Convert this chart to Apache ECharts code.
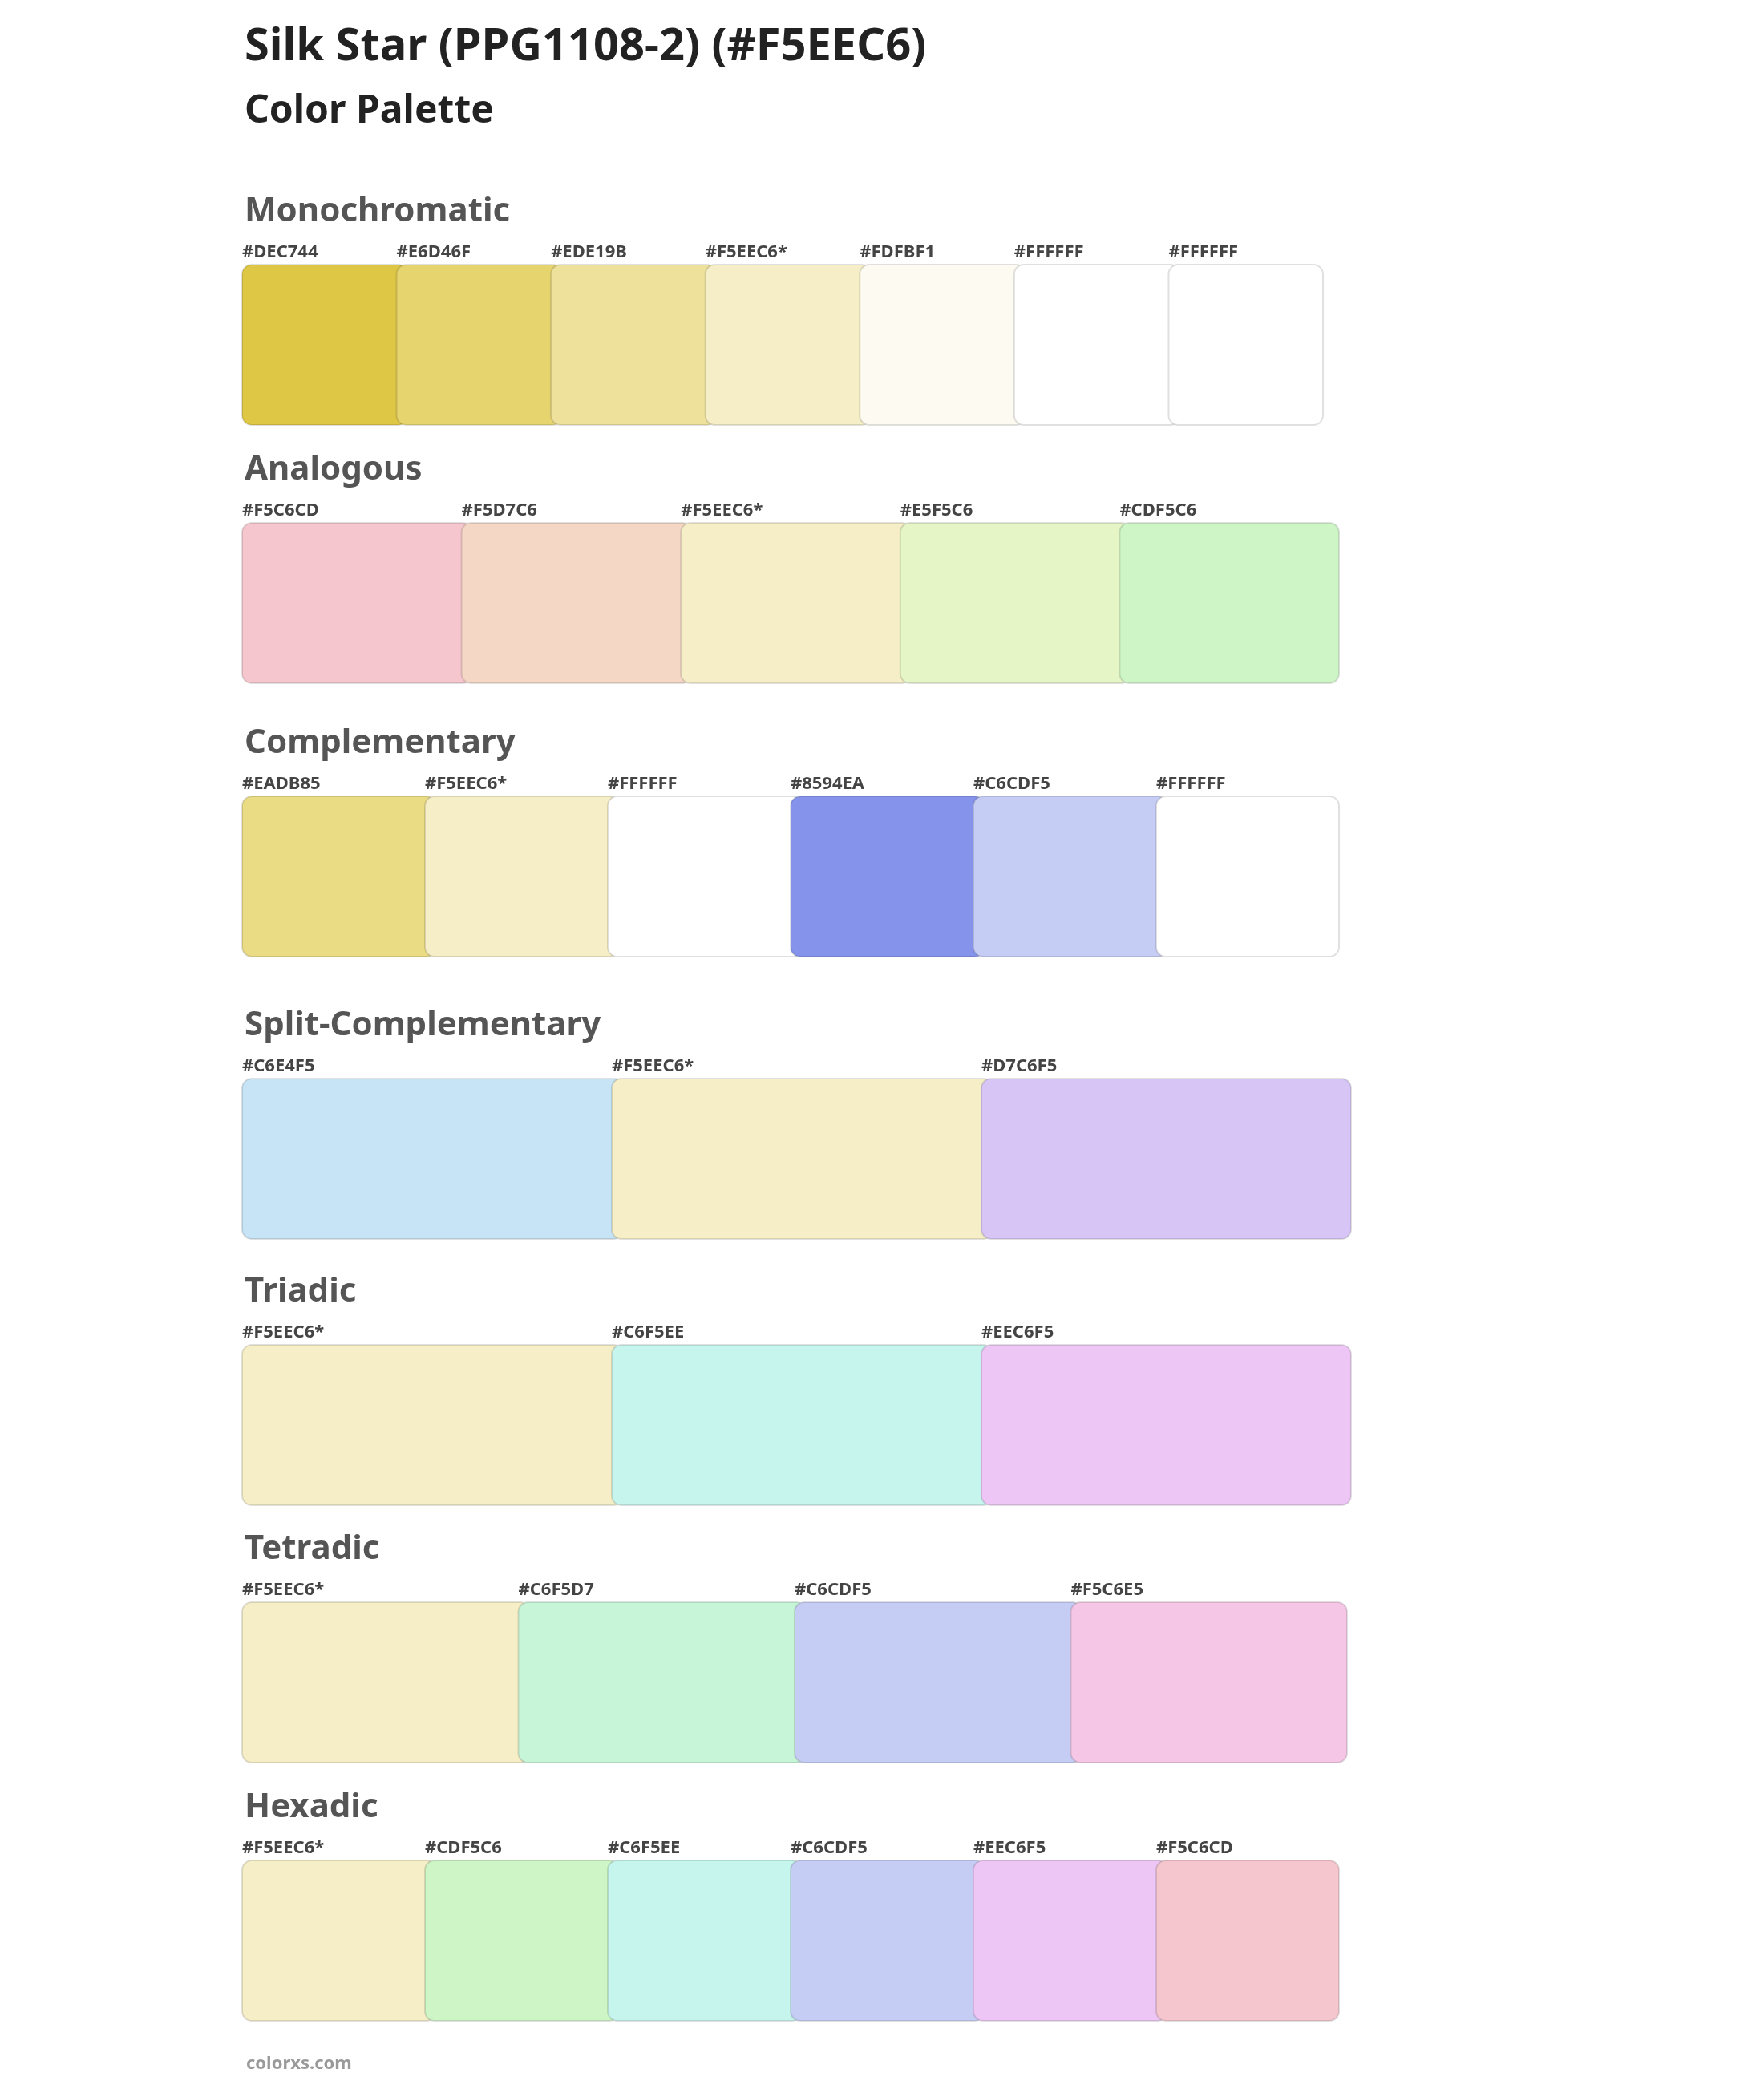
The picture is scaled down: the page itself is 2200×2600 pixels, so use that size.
<!DOCTYPE html>
<html lang="en">
<head>
<meta charset="UTF-8">
<title>Silk Star palette</title>
<script src="https://cdn.jsdelivr.net/npm/echarts@6/dist/echarts.min.js"></script>
<style>body{margin:0;background:#fff}</style>
</head>
<body>
<div id="chart" style="width:2200px;height:2600px;"></div>
<script>
var sectionNames = ['Monochromatic', 'Analogous', 'Complementary', 'Split-Complementary', 'Triadic', 'Tetradic', 'Hexadic'];
var mono = ['#DEC744', '#E6D46F', '#EDE19B', '#F5EEC6*', '#FDFBF1', '#FFFFFF', '#FFFFFF'];
var analogous = ['#F5C6CD', '#F5D7C6', '#F5EEC6*', '#E5F5C6', '#CDF5C6'];
var complementary = ['#EADB85', '#F5EEC6*', '#FFFFFF', '#8594EA', '#C6CDF5', '#FFFFFF'];
var split = ['#C6E4F5', '#F5EEC6*', '#D7C6F5'];
var triadic = ['#F5EEC6*', '#C6F5EE', '#EEC6F5'];
var tetradic = ['#F5EEC6*', '#C6F5D7', '#C6CDF5', '#F5C6E5'];
var hexadic = ['#F5EEC6*', '#CDF5C6', '#C6F5EE', '#C6CDF5', '#EEC6F5', '#F5C6CD'];
var palettes = [mono, analogous, complementary, split, triadic, tetradic, hexadic];

// layout (pixels)
var left = 302;
var swatchTops = [330, 652, 993, 1345, 1677, 1998, 2320];
var rights = [1650, 1670, 1670, 1685, 1685, 1680, 1670];
var swatchH = 200;

var myChart = echarts.init(document.getElementById('chart'));
var grids = [], xAxes = [], yAxes = [], series = [];
var titles = [
    {text: 'Silk Star (PPG1108-2) (#F5EEC6)', left: left - 2, top: 26,
     textStyle: {fontFamily: 'Noto Sans', fontWeight: 'bold', fontSize: 56, color: '#222'}},
    {text: 'Color Palette', left: left - 2, top: 110,
     textStyle: {fontFamily: 'Noto Sans', fontWeight: 'bold', fontSize: 48, color: '#222'}},
    {text: 'colorxs.com', left: left, top: 2558,
     textStyle: {fontFamily: 'Noto Sans', fontWeight: 'bold', fontSize: 22, color: '#999'}}
];

palettes.forEach(function (p, k) {
    titles.push({text: sectionNames[k], left: left - 2, top: swatchTops[k] - 92,
        textStyle: {fontFamily: 'Noto Sans', fontWeight: 'bold', fontSize: 42, color: '#555'}});
    grids.push({left: left, top: swatchTops[k], width: rights[k] - left, height: swatchH});
    xAxes.push({type: 'value', gridIndex: k, min: 0, max: p.length, show: false});
    yAxes.push({type: 'value', gridIndex: k, min: 0, max: 1, show: false});
    var n = p.length;
    series.push({
        type: 'custom', xAxisIndex: k, yAxisIndex: k,
        data: p.map(function (c, i) { return [i, c]; }),
        renderItem: function (params, api) {
            var i = api.value(0);
            var label = p[i];
            var col = label.replace('*', '');
            var a = api.coord([i, 1]);
            var b = api.coord([i + 1, 0]);
            var x2 = i === n - 1 ? b[0] : b[0] + 14;
            return {
                type: 'group',
                children: [{
                    type: 'rect',
                    shape: {x: a[0], y: a[1], width: x2 - a[0], height: b[1] - a[1], r: 12},
                    style: {fill: col, stroke: 'rgba(0,0,0,0.12)', lineWidth: 2}
                }, {
                    type: 'text',
                    style: {x: a[0], y: a[1] - 15, text: label, fill: '#444',
                        font: 'bold 22px "Noto Sans"', verticalAlign: 'middle'}
                }]
            };
        }
    });
});

var option = {
    backgroundColor: '#fff',
    animation: false,
    title: titles,
    grid: grids,
    xAxis: xAxes,
    yAxis: yAxes,
    series: series
};
myChart.setOption(option);
</script>
</body>
</html>
